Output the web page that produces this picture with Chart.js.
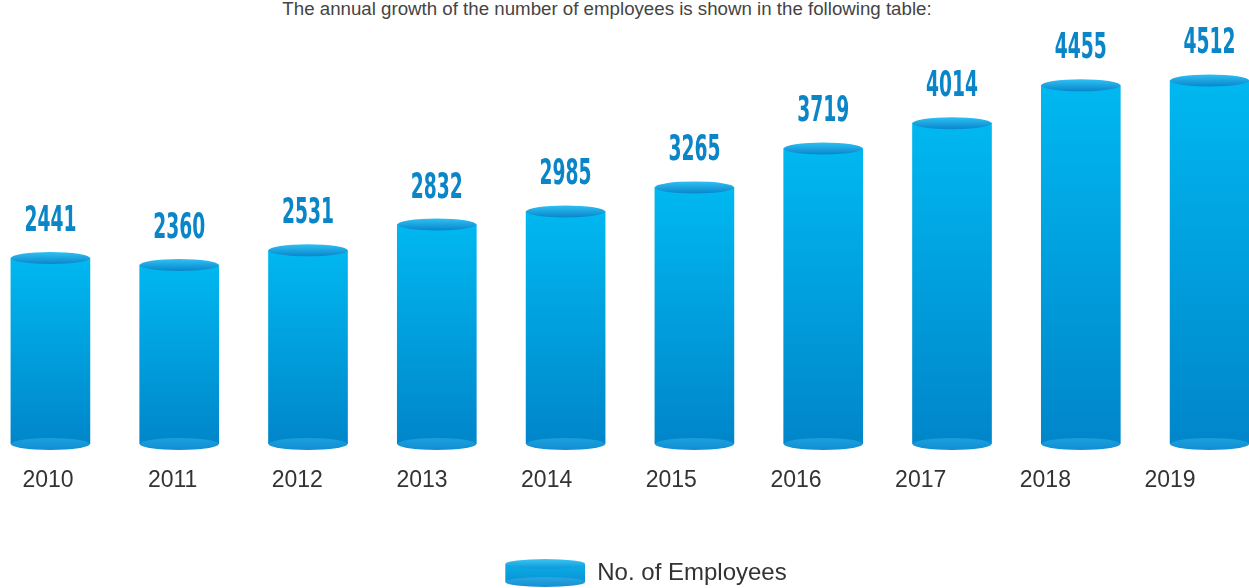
<!DOCTYPE html>
<html>
<head>
<meta charset="utf-8">
<title>Employees</title>
<script src="https://cdn.jsdelivr.net/npm/chart.js@4/dist/chart.umd.min.js"></script>
<style>
    body { margin: 0; background: #fff; overflow: hidden; width: 1249px; height: 588px; position: relative; }
    #title { position: absolute; left: 0; top: -2px; width: 1214px; text-align: center;
             font: 18.7px "Liberation Sans", Arial, sans-serif; color: #444; }
    #wrap { position: absolute; left: -14px; top: 0; width: 1288px; height: 595px; }
</style>
</head>
<body>
<div id="title">The annual growth of the number of employees is shown in the following table:</div>
<div id="wrap"><canvas id="employeeChart"></canvas></div>
<script>
// Chart data
const years = ['2010', '2011', '2012', '2013', '2014', '2015', '2016', '2017', '2018', '2019'];
const employees = [2441, 2360, 2531, 2832, 2985, 3265, 3719, 4014, 4455, 4512];
const seriesLabel = 'No. of Employees';
const yMin = 273;
const yMax = 4984;

// Small cylinder used as the legend marker (left part left blank to shift the item)
function makeLegendIcon() {
    const c = document.createElement('canvas');
    c.width = 112;
    c.height = 28;
    const ctx = c.getContext('2d');
    const cx = 72, rx = 40, ry = 5, top = 5, bottom = 23;
    let g = ctx.createLinearGradient(0, top, 0, bottom);
    g.addColorStop(0, '#0aaee8');
    g.addColorStop(1, '#0a93d6');
    ctx.fillStyle = g;
    ctx.fillRect(cx - rx, top, rx * 2, bottom - top);
    g = ctx.createLinearGradient(0, bottom - ry, 0, bottom + ry);
    g.addColorStop(0, '#2aa8e2');
    g.addColorStop(1, '#168fd2');
    ctx.fillStyle = g;
    ctx.beginPath();
    ctx.ellipse(cx, bottom, rx, ry, 0, 0, Math.PI * 2);
    ctx.fill();
    g = ctx.createLinearGradient(0, top - ry, 0, top + ry);
    g.addColorStop(0, '#3cc4f4');
    g.addColorStop(1, '#0a9ad8');
    ctx.fillStyle = g;
    ctx.beginPath();
    ctx.ellipse(cx, top, rx, ry, 0, 0, Math.PI * 2);
    ctx.fill();
    return c;
}

// Draws the ellipse caps and the value labels on each bar
const cylinderPlugin = {
    id: 'cylinder',
    afterDatasetsDraw(chart) {
        const ctx = chart.ctx;
        const meta = chart.getDatasetMeta(0);
        const basePx = chart.scales.y.getPixelForValue(yMin);
        meta.data.forEach((bar, i) => {
            const rx = bar.width / 2;
            const ry = 6;

            // bottom cap
            let g = ctx.createLinearGradient(0, basePx - ry, 0, basePx + ry);
            g.addColorStop(0, '#1d9fdd');
            g.addColorStop(1, '#0f8fd2');
            ctx.fillStyle = g;
            ctx.beginPath();
            ctx.ellipse(bar.x, basePx, rx, ry, 0, 0, Math.PI * 2);
            ctx.fill();

            // top cap
            g = ctx.createLinearGradient(0, bar.y - ry, 0, bar.y + ry);
            g.addColorStop(0, '#2fc0f3');
            g.addColorStop(1, '#0886cb');
            ctx.fillStyle = g;
            ctx.beginPath();
            ctx.ellipse(bar.x, bar.y, rx, ry, 0, 0, Math.PI * 2);
            ctx.fill();

            // value label, squeezed to look condensed
            ctx.save();
            ctx.font = 'bold 36px "Liberation Sans Narrow", "DejaVu Sans Condensed", "Liberation Sans", sans-serif';
            const sx = 52 / ctx.measureText('0000').width;
            ctx.translate(bar.x, bar.y - 27);
            ctx.scale(sx, 1);
            ctx.fillStyle = '#0a86c8';
            ctx.textAlign = 'center';
            ctx.textBaseline = 'alphabetic';
            ctx.fillText(String(employees[i]), 0, 0);
            ctx.restore();
        });
    }
};

function barGradient(c) {
    const chart = c.chart;
    const y = chart.scales.y;
    if (!chart.chartArea || !y || c.raw == null) return '#00aee8';
    const top = y.getPixelForValue(c.raw);
    const bottom = y.getPixelForValue(yMin);
    const g = chart.ctx.createLinearGradient(0, top, 0, bottom);
    g.addColorStop(0, '#00b8f0');
    g.addColorStop(1, '#0086ca');
    return g;
}

window.onload = function() {
    const ctx = document.getElementById('employeeChart').getContext('2d');
    new Chart(ctx, {
        type: 'bar',
        data: {
            labels: years,
            datasets: [{
                label: seriesLabel,
                data: employees,
                backgroundColor: barGradient,
                borderWidth: 0,
                barThickness: 79,
            }]
        },
        options: {
            responsive: true,
            maintainAspectRatio: false,
            animation: false,
            layout: { padding: { top: 40, left: 0, right: 0, bottom: 0 } },
            plugins: {
                legend: {
                    position: 'bottom',
                    labels: {
                        usePointStyle: true,
                        pointStyle: makeLegendIcon(),
                        pointStyleWidth: 112,
                        color: '#333',
                        padding: 10,
                        font: { family: '"Liberation Sans", Arial, sans-serif', size: 24 },
                    }
                },
                tooltip: { enabled: false },
            },
            scales: {
                x: {
                    display: false,
                },
                // year labels sit on a slightly tighter spacing than the bars
                xLabels: {
                    type: 'linear',
                    position: 'bottom',
                    bounds: 'data',
                    offset: false,
                    min: -0.497,
                    max: 9.834,
                    grid: { display: false, drawTicks: false, offset: false },
                    border: { display: false },
                    afterBuildTicks: function(scale) {
                        scale.ticks = years.map((y, i) => ({ value: i }));
                    },
                    ticks: {
                        autoSkip: false,
                        maxRotation: 0,
                        color: '#333',
                        padding: 23,
                        font: { family: '"Liberation Sans", Arial, sans-serif', size: 23 },
                        callback: function(value) {
                            return years[value] || '';
                        },
                    },
                    afterFit: function(scale) { scale.height = 107; },
                },
                y: {
                    display: false,
                    min: yMin,
                    max: yMax,
                },
            },
        },
        plugins: [cylinderPlugin]
    });
};
</script>
</body>
</html>
